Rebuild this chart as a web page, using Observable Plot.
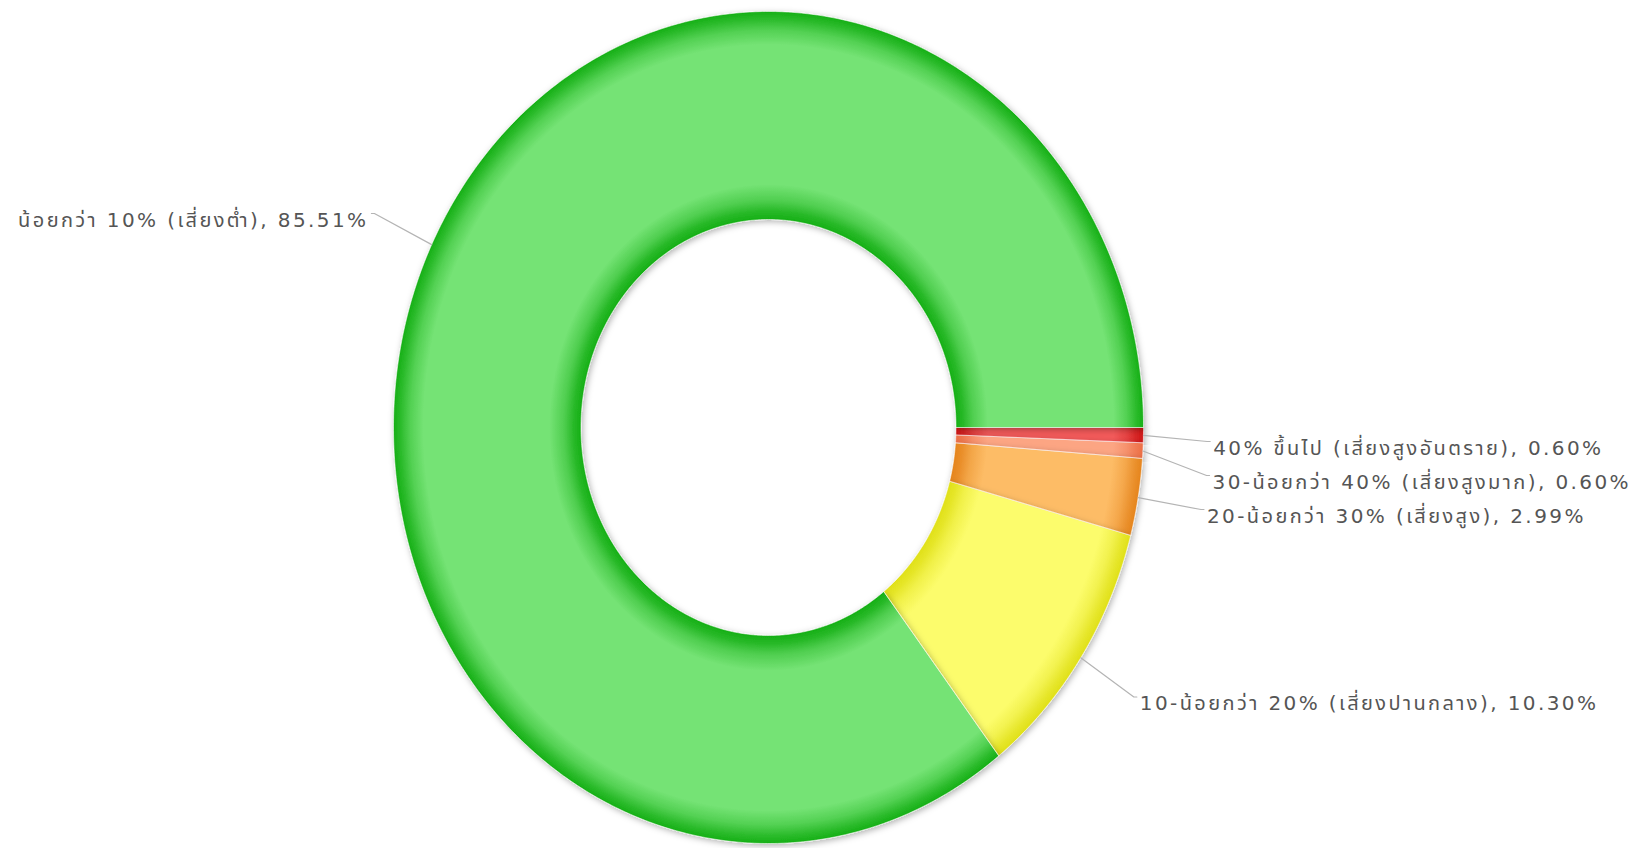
<!DOCTYPE html>
<html>
<head>
<meta charset="utf-8">
<script src="https://cdn.jsdelivr.net/npm/d3@7"></script>
<script src="https://cdn.jsdelivr.net/npm/@observablehq/plot@0.6"></script>
<style>
  html, body { margin: 0; padding: 0; background: #ffffff; }
  #chart svg { display: block; }
</style>
</head>
<body>
<div id="chart"></div>
<script>
// ---- data (slices in drawing order, clockwise from 3 o'clock) ----
const categories = [
  "40% ขึ้นไป (เสี่ยงสูงอันตราย)",
  "30-น้อยกว่า 40% (เสี่ยงสูงมาก)",
  "20-น้อยกว่า 30% (เสี่ยงสูง)",
  "10-น้อยกว่า 20% (เสี่ยงปานกลาง)",
  "น้อยกว่า 10% (เสี่ยงต่ำ)"
];
const values = [0.60, 0.60, 2.99, 10.30, 85.51];
const lightColors = ["#f35a5a", "#fca583", "#fdbc66", "#fcfc6c", "#75e375"];
const darkColors  = ["#cf1616", "#ec6e45", "#e5841c", "#e0e018", "#15af15"];

// ---- layout ----
const W = 1637, H = 848;
const cx = 768, cy = 427, rx = 375, ry = 416;
const innerRatio = 0.5, labelRadius = 1.17, lineGap = 34;

const total = d3.sum(values);
let acc = 0;
const slices = categories.map((name, i) => {
  const a0 = acc / total * 360;
  acc += values[i];
  const a1 = acc / total * 360;
  return {i, name, value: values[i], a0, a1, mid: (a0 + a1) / 2};
});
const rad = a => a * Math.PI / 180;

const polygons = slices.flatMap(s => {
  const n = Math.max(2, Math.ceil((s.a1 - s.a0) / 0.5));
  const pts = [];
  for (let k = 0; k <= n; k++) {
    const a = rad(s.a0 + (s.a1 - s.a0) * k / n);
    pts.push({i: s.i, x: Math.cos(a), y: Math.sin(a)});
  }
  for (let k = n; k >= 0; k--) {
    const a = rad(s.a0 + (s.a1 - s.a0) * k / n);
    pts.push({i: s.i, x: innerRatio * Math.cos(a), y: innerRatio * Math.sin(a)});
  }
  return pts;
});

// labels: radial anchor + simple cluster stacking
const labels = slices.map(s => {
  const a = rad(s.mid);
  return {
    ...s,
    side: Math.cos(a) >= 0 ? 1 : -1,
    ex: Math.cos(a), ey: Math.sin(a),
    lx: labelRadius * Math.cos(a), ly0: labelRadius * Math.sin(a),
    text: `${s.name}, ${s.value.toFixed(2)}%`
  };
});
const gapN = lineGap / ry;
for (const side of [1, -1]) {
  const L = labels.filter(d => d.side === side).sort((a, b) => a.ly0 - b.ly0);
  let start = 0;
  for (let k = 1; k <= L.length; k++) {
    if (k === L.length || L[k].ly0 - L[k - 1].ly0 >= 2 * gapN) {
      const anchor = L[k - 1].ly0;
      for (let j = start; j < k; j++) L[j].ly = anchor - (k - 1 - j) * gapN;
      start = k;
    }
  }
}
const connectors = labels.flatMap(d => [
  {i: d.i, x: d.ex, y: d.ey},
  {i: d.i, x: d.lx, y: d.ly},
  {i: d.i, x: d.lx + d.side * 3 / rx, y: d.ly}
]);

const fontFamily = "'DejaVu Sans', 'Noto Sans Thai', 'Loma', 'Tahoma', sans-serif";

const chart = Plot.plot({
  width: W, height: H,
  margin: 0,
  x: {domain: [-1, 1], range: [cx - rx, cx + rx], axis: null},
  y: {domain: [-1, 1], range: [cy - ry, cy + ry], axis: null},
  marks: [
    ...slices.map(s => Plot.line(polygons.filter(p => p.i === s.i), {
      x: "x", y: "y", curve: "linear-closed",
      fill: lightColors[s.i], stroke: "#ffffff", strokeOpacity: 0.55, strokeWidth: 1
    })),
    Plot.line(connectors, {x: "x", y: "y", z: "i", stroke: "#b4b4b4", strokeWidth: 1.2}),
    Plot.text(labels.filter(d => d.side > 0), {
      x: d => d.lx + 6 / rx, y: "ly", text: "text", textAnchor: "start",
      fontSize: 20, fontFamily, fill: "#555555", dy: 7
    }),
    Plot.text(labels.filter(d => d.side < 0), {
      x: d => d.lx - 6 / rx, y: "ly", text: "text", textAnchor: "end",
      fontSize: 20, fontFamily, fill: "#555555", dy: 7
    })
  ]
});
document.getElementById("chart").appendChild(chart);

// gradient + shadow definitions, placed using the chart's own scales
try {
  const sx = chart.scale("x"), sy = chart.scale("y");
  const X0 = sx.apply(0), Y0 = sy.apply(0);
  const R = sx.apply(1) - X0, RY = sy.apply(1) - Y0;
  const svg = d3.select(chart);
  const defs = svg.insert("defs", ":first-child");
  slices.forEach(s => {
    const g = defs.append("radialGradient")
      .attr("id", `grad${s.i}`)
      .attr("gradientUnits", "userSpaceOnUse")
      .attr("cx", X0).attr("cy", Y0).attr("r", R)
      .attr("gradientTransform", `translate(${X0},${Y0}) scale(1,${RY / R}) translate(${-X0},${-Y0})`);
    const mix = t => d3.interpolateRgb(darkColors[s.i], lightColors[s.i])(t);
    [[innerRatio, mix(0)], [innerRatio + 0.02, mix(0.2)], [innerRatio + 0.045, mix(0.6)],
     [innerRatio + 0.085, mix(1)],
     [0.92, mix(1)], [0.955, mix(0.65)], [0.98, mix(0.25)], [1, mix(0)]]
      .forEach(([o, c]) => g.append("stop").attr("offset", o).attr("stop-color", c));
  });
  const f = defs.append("filter").attr("id", "donutShadow")
    .attr("x", "-10%").attr("y", "-10%").attr("width", "120%").attr("height", "120%");
  f.append("feDropShadow").attr("dx", 1.5).attr("dy", 2).attr("stdDeviation", 3)
    .attr("flood-color", "#000").attr("flood-opacity", 0.3);
  slices.forEach(s => {
    svg.selectAll(`[fill="${lightColors[s.i]}"]`)
      .attr("fill", `url(#grad${s.i})`)
      .attr("filter", "url(#donutShadow)");
  });
  svg.selectAll('g[aria-label="text"]').style("letter-spacing", "2.4px");
} catch (e) { console.error(e); }
</script>
</body>
</html>
